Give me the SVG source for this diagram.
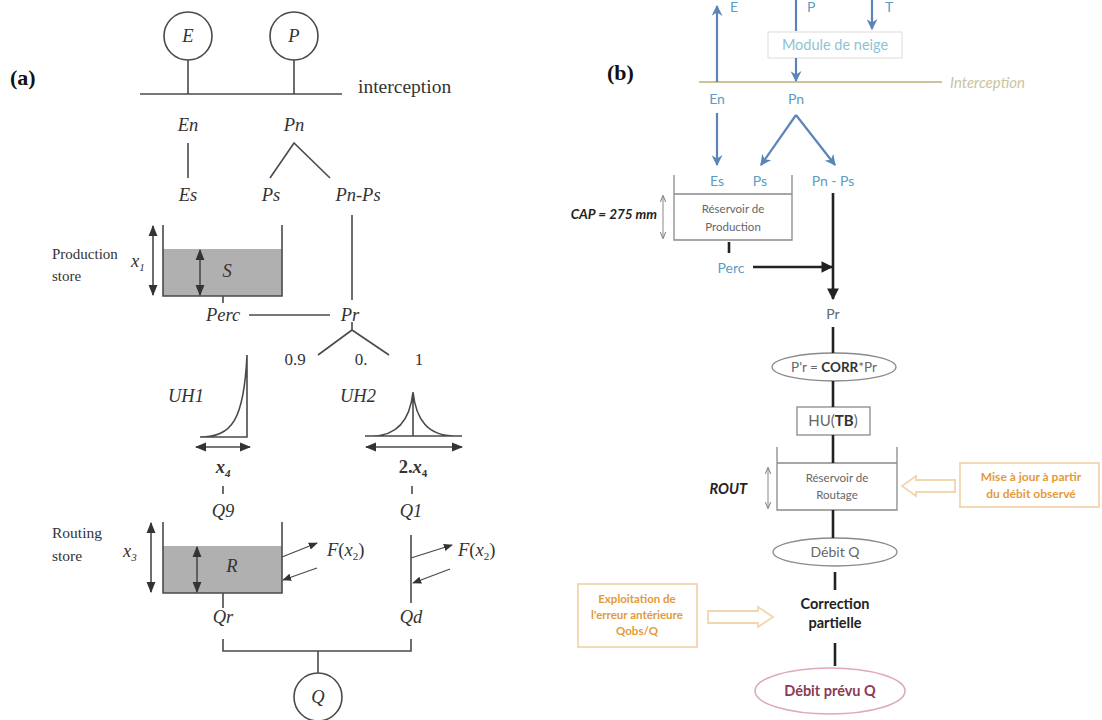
<svg xmlns="http://www.w3.org/2000/svg" width="1102" height="720" viewBox="0 0 1102 720">
<style>
.a{stroke:#4a4a4a;stroke-width:1.6;fill:none}
.at{font-family:"Liberation Serif",serif;fill:#333;font-size:18.5px}
.it{font-style:italic}
.bl{stroke:#5b84b8;stroke-width:2.2;fill:none}
.bt{font-family:Lato,"Liberation Sans",sans-serif;fill:#5b9cc4;font-size:14px}
.gt{font-family:Lato,"Liberation Sans",sans-serif;fill:#666;font-size:11.5px}
.k{stroke:#222;stroke-width:2.6;fill:none}
.gb{stroke:#8a8a8a;stroke-width:1.3;fill:#fff}
.gl{stroke:#8a8a8a;stroke-width:1.3;fill:none}
.ot{font-family:Lato,"Liberation Sans",sans-serif;fill:#e39a3b;font-size:12px;font-weight:bold}
.ob{stroke:#f1d6b0;stroke-width:1.8;fill:#fff}
.fill{fill:#b0b0b0}
</style>
<defs>
<marker id="ma" viewBox="0 0 10 10" refX="9" refY="5" markerWidth="7" markerHeight="7" orient="auto-start-reverse"><path d="M0,1 L10,5 L0,9 Z" fill="#333"/></marker>
<marker id="mb" viewBox="0 0 10 10" refX="9" refY="5" markerWidth="5" markerHeight="5" orient="auto-start-reverse"><path d="M0,0 L10,5 L0,10 L3,5 Z" fill="#5b84b8"/></marker>
<marker id="mk" viewBox="0 0 10 10" refX="9" refY="5" markerWidth="4.5" markerHeight="4.5" orient="auto"><path d="M0,0 L10,5 L0,10 Z" fill="#222"/></marker>
<marker id="mg" viewBox="0 0 10 10" refX="9" refY="5" markerWidth="7" markerHeight="7" orient="auto-start-reverse"><path d="M0,1 L10,5 L0,9" fill="none" stroke="#888" stroke-width="1.5"/></marker>
</defs>
<rect width="1102" height="720" fill="#fff"/>

<!-- Panel (a) -->
<g id="panel-a">
<text x="10" y="85" font-family="Liberation Serif,serif" font-weight="bold" font-size="22" fill="#111">(a)</text>
<g id="node-E"><circle cx="188" cy="36" r="24" class="a"/><text x="188" y="42" class="at it" text-anchor="middle">E</text></g>
<g id="node-P"><circle cx="294" cy="36" r="24" class="a"/><text x="294" y="42" class="at it" text-anchor="middle">P</text></g>
<g id="interception-a"><text x="358" y="93" class="at" style="font-size:19.5px">interception</text></g>
<g id="labels-a">
<text x="188" y="131" class="at it" text-anchor="middle">En</text>
<text x="294" y="131" class="at it" text-anchor="middle">Pn</text>
<text x="188" y="201" class="at it" text-anchor="middle">Es</text>
<text x="271" y="201" class="at it" text-anchor="middle">Ps</text>
<text x="358" y="201" class="at it" text-anchor="middle">Pn-Ps</text>
<text x="52" y="259" class="at" style="font-size:15px">Production</text>
<text x="52" y="281" class="at" style="font-size:15px">store</text>
<text x="223" y="321" class="at it" text-anchor="middle">Perc</text>
<text x="350" y="321" class="at it" text-anchor="middle">Pr</text>
<text x="295" y="365" class="at" style="font-size:17px" text-anchor="middle">0.9</text>
<text x="361" y="365" class="at" style="font-size:17px" text-anchor="middle">0.</text>
<text x="419" y="365" class="at" style="font-size:17px" text-anchor="middle">1</text>
<text x="186" y="402" class="at it" text-anchor="middle">UH1</text>
<text x="358" y="402" class="at it" text-anchor="middle">UH2</text>
<text x="223" y="473" class="at it" font-weight="bold" text-anchor="middle">x<tspan font-size="11" dy="4">4</tspan></text>
<text x="413" y="473" class="at" font-weight="bold" text-anchor="middle">2.<tspan font-style="italic">x</tspan><tspan font-size="11" dy="4">4</tspan></text>
<text x="223" y="517" class="at it" text-anchor="middle">Q9</text>
<text x="411" y="517" class="at it" text-anchor="middle">Q1</text>
<text x="52" y="538" class="at" style="font-size:15.5px">Routing</text>
<text x="52" y="561" class="at" style="font-size:15.5px">store</text>
<text x="123" y="557" class="at it">x<tspan font-size="11" dy="4">3</tspan></text>
<text x="327" y="556" class="at"><tspan font-style="italic">F</tspan>(<tspan font-style="italic">x</tspan><tspan font-size="11" dy="4">2</tspan><tspan dy="-4">)</tspan></text>
<text x="458" y="556" class="at"><tspan font-style="italic">F</tspan>(<tspan font-style="italic">x</tspan><tspan font-size="11" dy="4">2</tspan><tspan dy="-4">)</tspan></text>
<text x="223" y="623" class="at it" text-anchor="middle">Qr</text>
<text x="411" y="623" class="at it" text-anchor="middle">Qd</text>
<text x="131" y="267" class="at it">x<tspan font-size="11" dy="4">1</tspan></text>
</g>
<g id="production-store-a">
<rect x="163" y="249" width="119" height="47" class="fill"/>
<path d="M163,225 V296 H282 V225" class="a"/>
<line x1="153" y1="226" x2="153" y2="295" class="a" marker-start="url(#ma)" marker-end="url(#ma)"/>
<line x1="200" y1="250" x2="200" y2="295" class="a" stroke-width="2" marker-start="url(#ma)" marker-end="url(#ma)"/>
<text x="227" y="277" class="at it" text-anchor="middle">S</text>
</g>
<g id="uh1"><path d="M200,437 C232,437 244,420 247,355 V437 H200" class="a"/>
<line x1="196" y1="447" x2="250" y2="447" class="a" marker-start="url(#ma)" marker-end="url(#ma)"/></g>
<g id="uh2"><path d="M365,436 H462 M372,436 C398,436 410,420 413,392 C416,420 428,436 455,436 M413,392 V436" class="a"/>
<line x1="366" y1="447" x2="462" y2="447" class="a" marker-start="url(#ma)" marker-end="url(#ma)"/></g>
<g id="routing-store-a">
<rect x="163" y="546" width="119" height="47" class="fill"/>
<path d="M163,522 V593 H282 V522" class="a"/>
<line x1="151" y1="523" x2="151" y2="592" class="a" marker-start="url(#ma)" marker-end="url(#ma)"/>
<line x1="197" y1="547" x2="197" y2="592" class="a" marker-start="url(#ma)" marker-end="url(#ma)"/>
<text x="232" y="572" class="at it" text-anchor="middle">R</text>
</g>
<g id="node-Q"><circle cx="318" cy="697" r="24" class="a"/><text x="318" y="703" class="at it" text-anchor="middle">Q</text></g>
<g id="connectors-a" class="a">
<line x1="188" y1="60" x2="188" y2="94"/>
<line x1="294" y1="60" x2="294" y2="94"/>
<line x1="140" y1="94" x2="342" y2="94"/>
<line x1="188" y1="143" x2="188" y2="178"/>
<polyline points="270,178 294,143 330,178"/>
<line x1="352" y1="215" x2="352" y2="300"/>
<line x1="223" y1="296" x2="223" y2="303"/>
<line x1="249" y1="315" x2="330" y2="315"/>
<polyline points="352,322 352,330 318,355"/>
<line x1="352" y1="330" x2="389" y2="355"/>
<line x1="223" y1="486" x2="223" y2="494"/>
<line x1="412" y1="486" x2="412" y2="494"/>
<line x1="411" y1="535" x2="411" y2="603"/>
<line x1="282" y1="557" x2="317" y2="543" marker-end="url(#ma)" stroke-width="1.3"/>
<line x1="317" y1="568" x2="283" y2="580" marker-end="url(#ma)" stroke-width="1.3"/>
<line x1="411" y1="558" x2="452" y2="545" marker-end="url(#ma)" stroke-width="1.3"/>
<line x1="450" y1="569" x2="413" y2="583" marker-end="url(#ma)" stroke-width="1.3"/>
<line x1="223" y1="593" x2="223" y2="608"/>
<polyline points="223,639 223,651 411,651 411,639"/>
<line x1="318" y1="651" x2="318" y2="673"/>
</g>
</g>

<!-- Panel (b) -->
<g id="panel-b">
<text x="607" y="80" font-family="Liberation Serif,serif" font-weight="bold" font-size="22" fill="#111">(b)</text>
<g id="inputs-b">
<text x="730" y="12" class="bt">E</text>
<text x="807" y="12" class="bt">P</text>
<text x="885" y="12" class="bt">T</text>
</g>
<g id="module-neige"><rect x="768" y="32" width="134" height="26" fill="#fff" stroke="#e2e2e2" stroke-width="1.2"/>
<text x="835" y="50" class="bt" style="font-size:14.5px;fill:#8ec3d6" text-anchor="middle">Module de neige</text></g>
<g id="interception-b"><line x1="699" y1="82" x2="942" y2="82" stroke="#c9c49a" stroke-width="2.2"/>
<text x="950" y="88" font-family="Lato,'Liberation Sans',sans-serif" font-style="italic" font-size="15" fill="#c9c4a0">Interception</text></g>
<g id="labels-b">
<text x="717" y="104" class="bt" text-anchor="middle">En</text>
<text x="796" y="104" class="bt" text-anchor="middle">Pn</text>
<text x="717" y="186" class="bt" text-anchor="middle">Es</text>
<text x="760" y="186" class="bt" text-anchor="middle">Ps</text>
<text x="833" y="186" class="bt" text-anchor="middle">Pn - Ps</text>
<text x="731" y="273" class="bt" text-anchor="middle">Perc</text>
<text x="833" y="319" class="gt" style="font-size:14px" text-anchor="middle">Pr</text>
</g>
<g id="reservoir-production">
<path d="M674,175 V240 H792 V175 M674,194 H792" class="gl"/>
<text x="733" y="213" class="gt" text-anchor="middle">Réservoir de</text>
<text x="733" y="231" class="gt" text-anchor="middle">Production</text>
<line x1="663" y1="196" x2="663" y2="238" stroke="#888" stroke-width="1" marker-start="url(#mg)" marker-end="url(#mg)"/>
<text x="657" y="219" font-family="Lato,'Liberation Sans',sans-serif" font-weight="bold" font-style="italic" font-size="13.5" fill="#222" text-anchor="end">CAP = 275 mm</text>
</g>
<g id="corr-ellipse"><ellipse cx="834" cy="367" rx="62" ry="14" class="gb"/>
<text x="834" y="372" class="gt" style="font-size:13.5px" text-anchor="middle">P'r = <tspan font-weight="bold" fill="#333">CORR</tspan>*Pr</text></g>
<g id="hu-box"><rect x="797" y="407" width="73" height="28" class="gb"/>
<text x="833" y="426" class="gt" style="font-size:15px" text-anchor="middle">HU(<tspan font-weight="bold" fill="#333">TB</tspan>)</text></g>
<g id="reservoir-routage">
<path d="M777,447 V510 H897 V447 M777,463 H897" class="gl"/>
<text x="837" y="482" class="gt" text-anchor="middle">Réservoir de</text>
<text x="837" y="499" class="gt" text-anchor="middle">Routage</text>
<line x1="768" y1="468" x2="768" y2="508" stroke="#888" stroke-width="1" marker-start="url(#mg)" marker-end="url(#mg)"/>
<text x="747" y="494" font-family="Lato,'Liberation Sans',sans-serif" font-weight="bold" font-style="italic" font-size="14.5" fill="#222" text-anchor="end">ROUT</text>
</g>
<g id="mise-a-jour"><rect x="960" y="463" width="139" height="44" class="ob"/>
<text x="1031" y="481" class="ot" text-anchor="middle">Mise à jour à partir</text>
<text x="1031" y="498" class="ot" text-anchor="middle">du débit observé</text></g>
<g id="debit-q"><ellipse cx="835" cy="552" rx="62" ry="14" class="gb"/>
<text x="835" y="557" class="gt" style="font-size:14px" text-anchor="middle">Débit Q</text></g>
<g id="correction"><text x="835" y="609" font-family="Lato,'Liberation Sans',sans-serif" font-weight="bold" font-size="14.5" fill="#222" text-anchor="middle">Correction</text>
<text x="835" y="628" font-family="Lato,'Liberation Sans',sans-serif" font-weight="bold" font-size="14.5" fill="#222" text-anchor="middle">partielle</text></g>
<g id="exploitation"><rect x="578" y="584" width="119" height="63" class="ob"/>
<text x="637" y="603" class="ot" style="font-size:11.5px" text-anchor="middle">Exploitation de</text>
<text x="637" y="619" class="ot" style="font-size:11.5px" text-anchor="middle">l'erreur antérieure</text>
<text x="637" y="635" class="ot" style="font-size:11.5px" text-anchor="middle">Qobs/Q</text></g>
<g id="debit-prevu"><ellipse cx="830" cy="691" rx="75" ry="23" fill="#fff" stroke="#dcaab8" stroke-width="1.6"/>
<text x="830" y="696" font-family="Lato,'Liberation Sans',sans-serif" font-weight="bold" font-size="14.5" fill="#8c3a55" text-anchor="middle">Débit prévu Q</text></g>
<g id="connectors-b">
<line x1="717" y1="82" x2="717" y2="6" class="bl" marker-end="url(#mb)"/>
<line x1="796" y1="0" x2="796" y2="31" class="bl" stroke="#6d7f94"/>
<line x1="872" y1="0" x2="872" y2="29" class="bl" marker-end="url(#mb)"/>
<line x1="796" y1="58" x2="796" y2="81" class="bl" marker-end="url(#mb)"/>
<line x1="717" y1="113" x2="717" y2="165" class="bl" marker-end="url(#mb)"/>
<line x1="796" y1="115" x2="761" y2="165" class="bl" marker-end="url(#mb)"/>
<line x1="796" y1="115" x2="835" y2="165" class="bl" marker-end="url(#mb)"/>
<line x1="729" y1="242" x2="729" y2="253" class="k"/>
<line x1="753" y1="267" x2="832" y2="267" class="k" marker-end="url(#mk)"/>
<line x1="833" y1="193" x2="833" y2="299" class="k" marker-end="url(#mk)"/>
<line x1="833" y1="327" x2="833" y2="353" class="k"/>
<line x1="833" y1="381" x2="833" y2="407" class="k"/>
<line x1="833" y1="435" x2="833" y2="463" class="k"/>
<line x1="833" y1="510" x2="833" y2="538" class="k"/>
<line x1="835" y1="572" x2="835" y2="590" class="k"/>
<line x1="835" y1="643" x2="835" y2="666" class="k"/>
<polygon points="902,486 916,476 916,480 955,480 955,492 916,492 916,496" class="ob"/>
<polygon points="708,611 758,611 758,607 773,617 758,627 758,623 708,623" class="ob"/>
</g>
</g>
</svg>
